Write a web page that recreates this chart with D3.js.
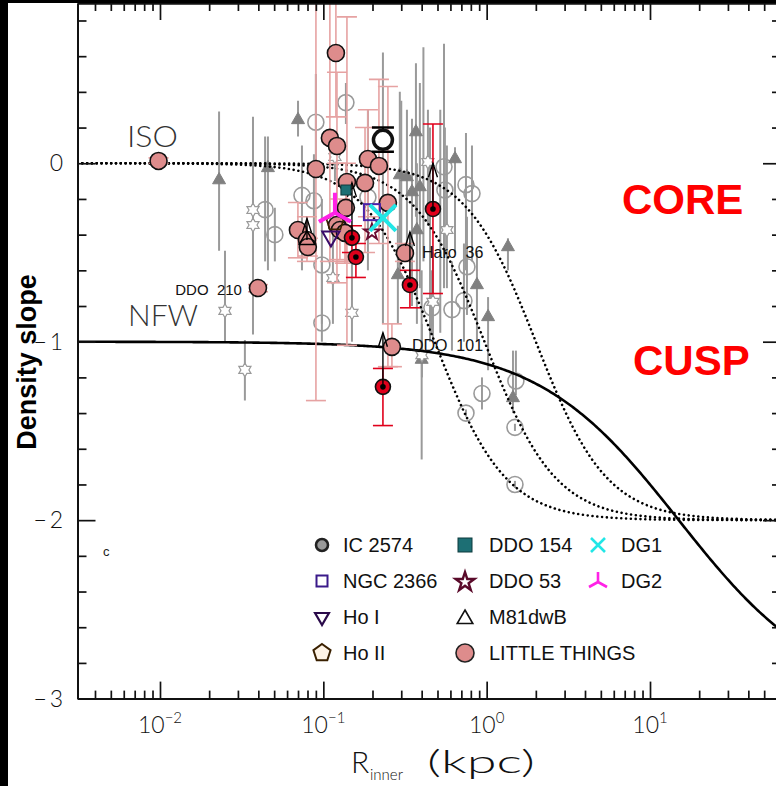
<!DOCTYPE html>
<html><head><meta charset="utf-8">
<script src="https://cdn.jsdelivr.net/npm/d3@7"></script>
<style>
body{margin:0;background:#fff;}
svg text{white-space:pre;}
.light{font-family:Lato,"Open Sans","DejaVu Sans",sans-serif;font-weight:300;}
.arial{font-family:"Liberation Sans",Arial,sans-serif;}
</style></head><body><svg id="c" width="776" height="786"></svg>
<script>
// ---------------- data ----------------
const xMajorTicks = [0.01, 0.1, 1, 10];
const xTickExponents = ["−2", "−1", "0", "1"];
const yMajorTicks = [-3, -2, -1, 0];
const yTickLabels = ["−\u20093", "−\u20092", "−\u20091", "0"];

// model parameters (kpc)
const nfwScaleRadius = [15];
const isoCoreRadii = [0.48, 0.97, 2.0];

// [R_inner kpc, slope, low end, high end]
const grayCircles = [
 [0.1375, 0.34, 0.22, 0.45], [0.090, 0.23, -0.05, 0.5], [0.074, -0.18, -0.6, 0.1],
 [0.0876, -0.21, -0.5, 0.05], [0.044, -0.26, -0.55, 0.15], [0.0505, -0.40, -0.55, -0.25],
 [0.1875, -0.19, -0.6, 0.3], [0.548, -0.02, -0.7, 0.67], [0.747, -0.12, -0.6, 0.17],
 [0.813, -0.17, -0.55, 0.1], [0.555, -0.15, -0.5, 0.2], [0.098, -0.57, -0.9, -0.2],
 [0.098, -0.895, -1.0, -0.55], [0.7575, -0.58, -0.85, -0.3], [0.613, -0.82, -1.05, -0.55],
 [0.726, -0.77, -1.0, -0.45], [0.462, -0.81, -0.95, -0.6], [0.936, -1.29, -1.38, -1.2],
 [1.51, -1.22, -1.3, -1.05], [1.49, -1.48, -1.5, -1.46], [0.747, -1.40, -1.42, -1.38],
 [1.49, -1.80, -1.82, -1.78]
];
const grayTriangles = [
 [0.023, -0.094, -0.49, 0.29], [0.070, 0.243, 0.15, 0.35], [0.0458, -0.026, -0.6, 0.15],
 [0.369, 0.175, -0.3, 0.56], [0.64, 0.024, -0.5, 0.09], [0.294, -0.066, -0.6, 0.4],
 [0.325, -0.077, -0.5, 0.3], [0.349, -0.161, -0.8, 0.25], [0.39, -0.133, -0.7, 0.45],
 [1.35, -0.469, -0.6, -0.42], [0.374, -0.374, -0.9, 0.0], [0.286, -0.626, -0.9, -0.35],
 [0.872, -0.682, -1.0, -0.5], [1.02, -0.861, -1.16, -0.75], [1.449, -1.315, -1.4, -1.05],
 [0.40, -1.10, -1.66, -0.6]
];
const grayStars = [
 [0.0371, -0.262, -0.96, 0.26], [0.0371, -0.346, -0.5, -0.2], [0.025, -0.827, -1.0, -0.49],
 [0.0331, -1.158, -1.33, -0.99], [0.1178, 0.035, -0.1, 0.15], [0.437, 0.007, -0.35, 0.3],
 [0.571, -0.374, -0.7, 0.1], [0.1145, -0.643, -0.9, -0.4], [0.1497, -0.838, -1.0, -0.5],
 [0.469, -0.777, -1.0, -0.5], [0.4016, -1.075, -1.2, -0.9]
];
// error ranges whose markers are hidden under others: [R, low, high]
const grayHiddenBars = [
 [0.2317, -0.9, 0.62], [0.41, -0.55, 0.65], [0.30, -0.5, 0.35], [0.52, -0.95, 0.3], [0.45, -1.0, 0.2]
];
const littleThings = [
 [0.0098, 0.013, 0.0, 0.03], [0.1194, 0.618, 0.26, 1.2], [0.1097, 0.142, -0.55, 1.2],
 [0.1212, 0.097, -0.3, 0.51], [0.0901, -0.032, -1.33, 1.2], [0.1875, 0.024, -0.3, 0.3],
 [0.219, -0.015, -0.45, 0.47], [0.1395, -0.105, -1.02, 0.82], [0.18, -0.11, -0.5, 0.2],
 [0.2486, -0.222, -1.14, 0.43], [0.1375, -0.25, -0.55, 0.0], [0.0699, -0.374, -0.53, -0.22],
 [0.0794, -0.43, -0.55, -0.3], [0.0804, -0.469, -0.52, -0.42], [0.1212, -0.346, -0.67, 0.0],
 [0.1264, -0.374, -0.54, -0.2], [0.1356, -0.39, -0.56, -0.25], [0.0398, -0.699, -0.72, -0.68],
 [0.316, -0.503, -0.55, -0.45], [0.263, -1.029, -1.14, -0.9]
];
const redPoints = [
 [0.469, -0.256, -0.73, 0.22], [0.1497, -0.418, -0.5, -0.35], [0.1583, -0.525, -0.64, -0.45],
 [0.339, -0.682, -0.81, -0.6], [0.2317, -1.253, -1.47, -1.15]
];
// [R, from slope, to slope]
const arrows = [
 [0.2317, -1.253, -0.95], [0.339, -0.65, -0.385], [0.469, -0.256, 0.0],
 [0.1497, -0.418, -0.11], [0.0794, -0.43, -0.31]
];
const ic2574 = [0.2317, 0.131, 0.064, 0.2];
const ngc2366 = [0.1984, -0.274];
const hoI = [0.1113, -0.41];
const hoII = [0.118, -0.33];
const ddo154 = [0.1375, -0.15];
const ddo53 = [0.1984, -0.385];
const m81dwb = [0.0794, -0.43];
const dg1 = [0.2317, -0.306];
const dg2 = [0.1178, -0.278];

const legendNames = ["IC 2574","NGC 2366","Ho I","Ho II","DDO 154","DDO 53","M81dwB","LITTLE THINGS","DG1","DG2"];
// [label, R, slope]
const pointLabels = [["DDO  210", 0.0398, -0.699], ["Haro  36", 0.316, -0.503], ["DDO  101", 0.263, -1.029]];

// ---------------- setup ----------------
const W = 776, H = 786;
const L = 77.5, R = 781, T = 3, B = 698.6;
const svg = d3.select("#c");
svg.append("rect").attr("width", W).attr("height", H).attr("fill", "#fff");

const x = d3.scaleLog().domain([Math.pow(10, -2.505), Math.pow(10, 1.802)]).range([L, R]);
const y = d3.scaleLinear().domain([-3, 0.898]).range([B, T]);

svg.append("defs").append("clipPath").attr("id", "clip")
  .append("rect").attr("x", L).attr("y", T).attr("width", R - L).attr("height", B - T);
const plot = svg.append("g").attr("clip-path", "url(#clip)");

const GRAY = "#9a9a9a", PINKBAR = "#e6a2a2", PINK = "#de8c8c", RED = "#e0001b";

function errBars(g, data, color, cap, width, i0 = 2, i1 = 3) {
  const gg = g.append("g").attr("stroke", color).attr("stroke-width", width).attr("fill", "none");
  data.forEach(d => {
    gg.append("line").attr("x1", x(d[0])).attr("x2", x(d[0])).attr("y1", y(d[i0])).attr("y2", y(d[i1]));
    if (cap > 0) {
      [d[i0], d[i1]].forEach(v => gg.append("line").attr("x1", x(d[0]) - cap).attr("x2", x(d[0]) + cap)
        .attr("y1", y(v)).attr("y2", y(v)));
    }
  });
}
function star6(Ro, Ri) {
  const p = d3.path();
  for (let i = 0; i < 12; i++) {
    const a = -Math.PI / 2 + i * Math.PI / 6, r = i % 2 ? Ri : Ro;
    const px = r * Math.cos(a), py = r * Math.sin(a);
    i ? p.lineTo(px, py) : p.moveTo(px, py);
  }
  p.closePath(); return p.toString();
}
function polyPath(n, r, rot) {
  const p = d3.path();
  for (let i = 0; i < n; i++) {
    const a = rot + i * 2 * Math.PI / n;
    i ? p.lineTo(r * Math.cos(a), r * Math.sin(a)) : p.moveTo(r * Math.cos(a), r * Math.sin(a));
  }
  p.closePath(); return p.toString();
}
const tr = d => `translate(${x(d[0])},${y(d[1])})`;

// ---------------- gray data ----------------
errBars(plot, grayHiddenBars, GRAY, 0, 2, 1, 2);
errBars(plot, grayCircles, GRAY, 0, 2);
errBars(plot, grayTriangles, GRAY, 0, 2);
errBars(plot, grayStars, GRAY, 0, 2);
plot.append("g").selectAll("circle").data(grayCircles).join("circle")
  .attr("cx", d => x(d[0])).attr("cy", d => y(d[1])).attr("r", 8)
  .attr("fill", "none").attr("stroke", GRAY).attr("stroke-width", 1.6);
plot.append("g").selectAll("path").data(grayTriangles).join("path")
  .attr("transform", tr).attr("d", polyPath(3, 7.5, -Math.PI / 2))
  .attr("fill", "#808080").attr("stroke", "#808080").attr("stroke-width", 1);
plot.append("g").selectAll("path").data(grayStars).join("path")
  .attr("transform", tr).attr("d", star6(7, 4))
  .attr("fill", "#fff").attr("stroke", GRAY).attr("stroke-width", 1.2);

// ---------------- model curves ----------------
const rs = d3.range(0, 401).map(i => Math.pow(10, -2.505 + i * 4.307 / 400));
const line = d3.line().x(d => x(d[0])).y(d => y(d[1]));
isoCoreRadii.forEach(rc => {
  plot.append("path").attr("d", line(rs.map(r => [r, -2 * (r / rc) ** 2 / (1 + (r / rc) ** 2)])))
    .attr("fill", "none").attr("stroke", "#000").attr("stroke-width", 2.6)
    .attr("stroke-dasharray", "0.01 4.8").attr("stroke-linecap", "round");
});
plot.append("path").attr("d", line(rs.map(r => [r, -1 - 2 * (r / nfwScaleRadius[0]) / (1 + r / nfwScaleRadius[0])])))
  .attr("fill", "none").attr("stroke", "#000").attr("stroke-width", 2.6);

// ---------------- LITTLE THINGS ----------------
errBars(plot, littleThings, PINKBAR, 10, 1.6);
errBars(plot, redPoints, RED, 10, 1.6);
plot.append("g").selectAll("circle").data(littleThings).join("circle")
  .attr("cx", d => x(d[0])).attr("cy", d => y(d[1])).attr("r", 8.5)
  .attr("fill", PINK).attr("stroke", "#111").attr("stroke-width", 1.6);
const rg = plot.append("g").selectAll("g").data(redPoints).join("g").attr("transform", tr);
rg.append("circle").attr("r", 7.5).attr("fill", RED).attr("stroke", "#111").attr("stroke-width", 1.6);
rg.append("circle").attr("r", 2.8).attr("fill", "#000");

// arrows
const ag = plot.append("g").attr("stroke", "#000").attr("stroke-width", 1.4).attr("fill", "none");
arrows.forEach(d => {
  const xx = x(d[0]), y0 = y(d[1]), y1 = y(d[2]);
  ag.append("line").attr("x1", xx).attr("x2", xx).attr("y1", y0).attr("y2", y1);
  ag.append("path").attr("d", `M${xx - 4.5},${y1 + 14}L${xx},${y1}L${xx + 4.5},${y1 + 14}`);
});

// ---------------- other galaxies ----------------
const sp = plot.append("g");
// IC 2574
sp.append("line").attr("x1", x(ic2574[0])).attr("x2", x(ic2574[0])).attr("y1", y(ic2574[2])).attr("y2", y(ic2574[3])).attr("stroke", "#000").attr("stroke-width", 2);
[ic2574[2], ic2574[3]].forEach(v => sp.append("line").attr("x1", x(ic2574[0]) - 11).attr("x2", x(ic2574[0]) + 11)
  .attr("y1", y(v)).attr("y2", y(v)).attr("stroke", "#000").attr("stroke-width", 2.5));
sp.append("circle").attr("transform", tr(ic2574)).attr("r", 9.5).attr("fill", "#fff").attr("stroke", "#111").attr("stroke-width", 3.5);
// DDO 154
sp.append("rect").attr("transform", tr(ddo154)).attr("x", -5).attr("y", -5).attr("width", 10).attr("height", 10).attr("fill", "#1d6f74").attr("stroke", "#0d3a3d");
// M81dwB
sp.append("path").attr("transform", tr(m81dwb)).attr("d", polyPath(3, 9, -Math.PI / 2)).attr("fill", "none").attr("stroke", "#000").attr("stroke-width", 1.5);
// Ho II
sp.append("path").attr("transform", tr(hoII)).attr("d", polyPath(5, 9, -Math.PI / 2)).attr("fill", "none").attr("stroke", "#3a2000").attr("stroke-width", 1.6);
// NGC 2366
sp.append("rect").attr("transform", tr(ngc2366)).attr("x", -8).attr("y", -8).attr("width", 16).attr("height", 16).attr("fill", "none").attr("stroke", "#4a22a8").attr("stroke-width", 2);
// Ho I
sp.append("path").attr("transform", tr(hoI)).attr("d", polyPath(3, 10, Math.PI / 2)).attr("fill", "none").attr("stroke", "#3a0a6a").attr("stroke-width", 2);
// DDO 53
sp.append("path").attr("transform", tr(ddo53)).attr("d", d3.symbol(d3.symbolStar, 80)()).attr("fill", "none").attr("stroke", "#6a0a30").attr("stroke-width", 1.8);
// DG2
sp.append("path").attr("transform", tr(dg2)).attr("d", "M0,0V-20M0,0L-16,9M0,0L16,9").attr("fill", "none").attr("stroke", "#ff22e6").attr("stroke-width", 4);
// DG1
sp.append("path").attr("transform", tr(dg1)).attr("d", "M-13,-13L13,13M-13,13L13,-13").attr("fill", "none").attr("stroke", "#22e6e6").attr("stroke-width", 4);

// point labels
const plab = svg.append("g").attr("class", "arial").attr("font-size", 15).attr("fill", "#111");
plab.append("text").attr("x", x(pointLabels[0][1]) - 16).attr("y", y(pointLabels[0][2]) + 7).attr("text-anchor", "end").text(pointLabels[0][0]);
plab.append("text").attr("x", x(pointLabels[1][1]) + 17).attr("y", y(pointLabels[1][2]) + 5).attr("font-size", 16).text(pointLabels[1][0]);
plab.append("text").attr("x", x(pointLabels[2][1]) + 20).attr("y", y(pointLabels[2][2]) + 4).attr("font-size", 16).text(pointLabels[2][0]);

// ---------------- axes ----------------
const decades = [0.001, 0.01, 0.1, 1, 10];
const xMinor = decades.flatMap(d => d3.range(2, 10).map(k => k * d)).filter(v => x(v) > L + 1 && x(v) < R - 1);
const yMinor = d3.range(-30, 9, 2).map(v => v / 10).filter(v => Math.abs(v - Math.round(v)) > 1e-6);

function style(g) {
  g.select(".domain").attr("stroke", "#111").attr("stroke-width", 2);
  g.selectAll(".tick line").attr("stroke", "#111").attr("stroke-width", 1.7);
  g.selectAll(".tick text").remove();
}
const gb = svg.append("g").attr("transform", `translate(0,${B})`);
gb.call(d3.axisBottom(x).tickValues(xMajorTicks).tickSize(-17).tickSizeOuter(0).tickFormat(() => "")).call(style);
gb.append("g").call(d3.axisBottom(x).tickValues(xMinor).tickSize(-8).tickSizeOuter(0).tickFormat(() => "")).call(style);
const gt = svg.append("g").attr("transform", `translate(0,${T})`);
gt.call(d3.axisTop(x).tickValues(xMajorTicks).tickSize(-17).tickSizeOuter(0).tickFormat(() => "")).call(style);
gt.append("g").call(d3.axisTop(x).tickValues(xMinor).tickSize(-8).tickSizeOuter(0).tickFormat(() => "")).call(style);
const gl = svg.append("g").attr("transform", `translate(${L},0)`);
gl.call(d3.axisLeft(y).tickValues(yMajorTicks).tickSize(-18).tickSizeOuter(0).tickFormat(() => "")).call(style);
gl.append("g").call(d3.axisLeft(y).tickValues(yMinor).tickSize(-9).tickSizeOuter(0).tickFormat(() => "")).call(style);
const gr = svg.append("g").attr("transform", `translate(${R},0)`);
gr.call(d3.axisRight(y).tickValues(yMajorTicks).tickSize(-18).tickSizeOuter(0).tickFormat(() => "")).call(style);
gr.append("g").call(d3.axisRight(y).tickValues(yMinor).tickSize(-9).tickSizeOuter(0).tickFormat(() => "")).call(style);

// tick labels
const xl = svg.append("g").attr("class", "light").attr("fill", "#111");
xMajorTicks.forEach((v, i) => {
  const t = xl.append("text").attr("x", x(v)).attr("y", B + 34).attr("text-anchor", "middle").attr("font-size", 23);
  t.append("tspan").text("10");
  t.append("tspan").attr("dy", -10).attr("font-size", 15).text(xTickExponents[i]);
});
yMajorTicks.forEach((v, i) => {
  xl.append("text").attr("x", 63).attr("y", y(v) + 8).attr("text-anchor", "end").attr("font-size", 23).text(yTickLabels[i]);
});

// axis titles
const tg = svg.append("g").attr("class", "light").attr("fill", "#111");
tg.append("text").attr("x", 351).attr("y", 773).attr("font-size", 30).text("R");
tg.append("text").attr("x", 370).attr("y", 780).attr("font-size", 15).attr("textLength", 33).attr("lengthAdjust", "spacingAndGlyphs").text("inner");
tg.append("text").attr("x", 427).attr("y", 773).attr("font-size", 32).attr("textLength", 108).attr("lengthAdjust", "spacingAndGlyphs").text("(kpc)");
svg.append("text").attr("class", "arial").attr("font-weight", "bold").attr("font-size", 27)
  .attr("transform", "translate(36,362) rotate(-90)").attr("text-anchor", "middle").attr("fill", "#000").text("Density slope");

// annotations
svg.append("text").attr("class", "light").attr("x", 127).attr("y", 147).attr("font-size", 30).attr("textLength", 51).attr("lengthAdjust", "spacingAndGlyphs").attr("fill", "#333").text("ISO");
svg.append("text").attr("class", "light").attr("x", 128).attr("y", 326).attr("font-size", 30).attr("fill", "#333").text("NFW");
svg.append("text").attr("class", "arial").attr("font-weight", "bold").attr("x", 622).attr("y", 214).attr("font-size", 42).attr("fill", "#ff0000").text("CORE");
svg.append("text").attr("class", "arial").attr("font-weight", "bold").attr("x", 633).attr("y", 375).attr("font-size", 42).attr("fill", "#ff0000").text("CUSP");
svg.append("text").attr("class", "arial").attr("x", 103).attr("y", 556).attr("font-size", 13).attr("fill", "#222").text("c");

// ---------------- legend ----------------
const rowsY = [545, 581, 617, 653];
const colMX = [322, 465, 598], colTX = [343, 489, 621];
const lg = svg.append("g");
const slot = i => (i < 4 ? [0, i] : i < 8 ? [1, i - 4] : [2, i - 8]);
const legendMarker = [
  g => g.append("circle").attr("r", 6).attr("fill", "#9a9a9a").attr("stroke", "#222").attr("stroke-width", 2.6),
  g => g.append("rect").attr("x", -5.5).attr("y", -5.5).attr("width", 11).attr("height", 11).attr("fill", "#fff").attr("stroke", "#3a1a8a").attr("stroke-width", 2),
  g => g.append("path").attr("d", polyPath(3, 8, Math.PI / 2)).attr("fill", "#fff").attr("stroke", "#2a0a4a").attr("stroke-width", 2.2),
  g => g.append("path").attr("d", polyPath(5, 9, -Math.PI / 2)).attr("fill", "#fff4e6").attr("stroke", "#3a2000").attr("stroke-width", 2),
  g => g.append("rect").attr("x", -7).attr("y", -7).attr("width", 14).attr("height", 14).attr("fill", "#1d6f74").attr("stroke", "#0d3a3d").attr("stroke-width", 1),
  g => g.append("path").attr("d", d3.symbol(d3.symbolStar, 110)()).attr("transform", "translate(0,1)").attr("fill", "#fff").attr("stroke", "#5a0a2a").attr("stroke-width", 2.4),
  g => g.append("path").attr("d", polyPath(3, 9, -Math.PI / 2)).attr("transform", "translate(0,2)").attr("fill", "#fff").attr("stroke", "#111").attr("stroke-width", 1.6),
  g => g.append("circle").attr("r", 9).attr("fill", PINK).attr("stroke", "#222").attr("stroke-width", 1.6),
  g => g.append("path").attr("d", "M-7,-7L7,7M-7,7L7,-7").attr("stroke", "#22e6e6").attr("stroke-width", 2.6),
  g => g.append("path").attr("d", "M0,1V-9M0,1L-9,6M0,1L9,6").attr("fill", "none").attr("stroke", "#ff22e6").attr("stroke-width", 2.6)
];
legendNames.forEach((name, i) => {
  const [c, r] = slot(i);
  const m = lg.append("g").attr("transform", `translate(${colMX[c]},${rowsY[r]})`);
  legendMarker[i](m);
  lg.append("text").attr("class", "arial").attr("x", colTX[c]).attr("y", rowsY[r] + 7).attr("font-size", 20).attr("fill", "#111").text(name);
});

// black border strips
svg.append("rect").attr("x", 0).attr("y", 0).attr("width", 8).attr("height", H).attr("fill", "#000");
svg.append("rect").attr("x", 0).attr("y", 0).attr("width", W).attr("height", 3).attr("fill", "#000");
</script></body></html>
